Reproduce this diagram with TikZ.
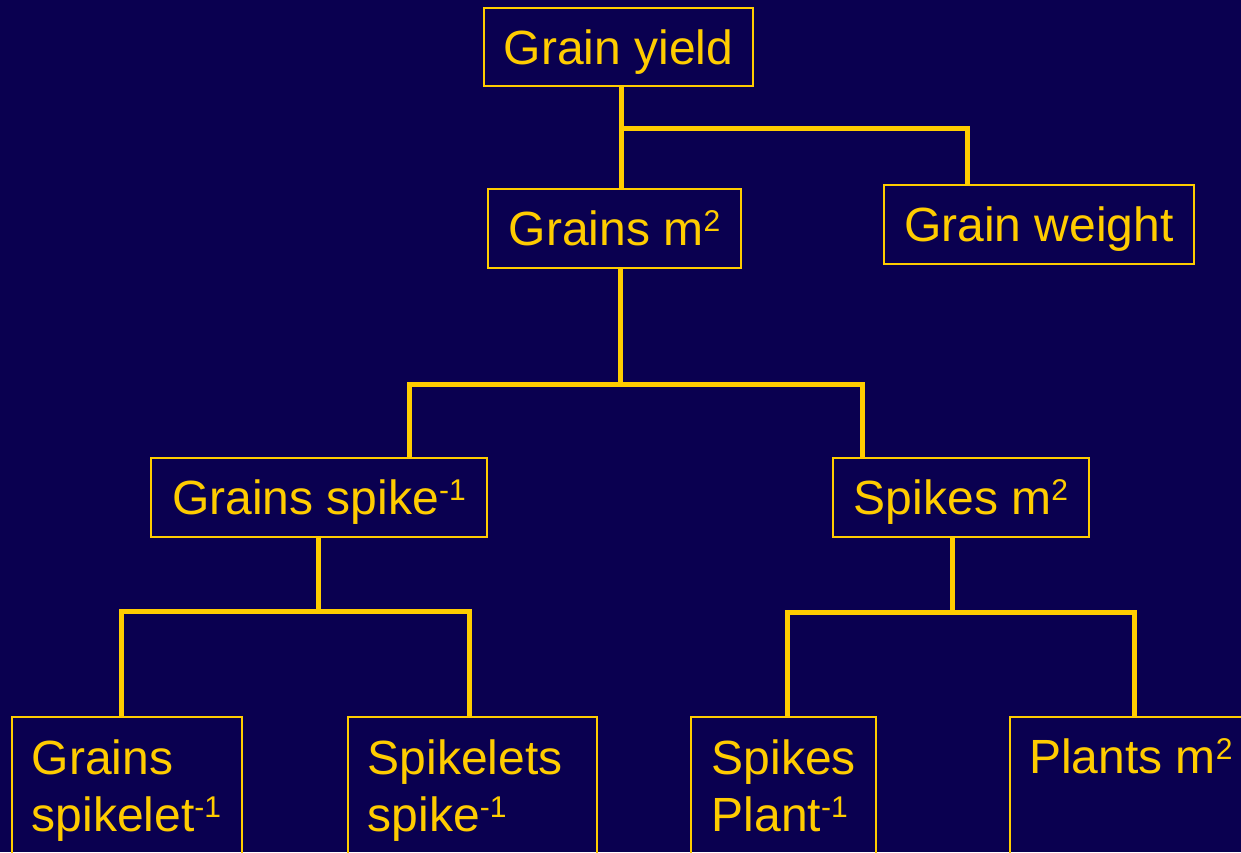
\documentclass[tikz,border=0pt]{standalone}
\usepackage{fontspec}
\setmainfont{Liberation Sans}
\definecolor{bgnavy}{HTML}{0A0050}
\definecolor{gold}{HTML}{FFCC00}
\newcommand{\supx}[1]{\raisebox{14pt}{\fontsize{30}{30}\selectfont #1}}
\begin{document}
\begin{tikzpicture}[x=1pt,y=-1pt,
  box/.style={draw=gold,line width=2pt,inner sep=0pt,text=gold,
    font=\fontsize{48}{57}\selectfont,text height=34pt,text depth=0pt},
  lbl/.style={inner sep=0pt,text=gold,anchor=base west,
    font=\fontsize{48}{57}\selectfont},
  conn/.style={draw=gold,line width=5pt,line join=miter}]
\fill[bgnavy] (0,0) rectangle (1241,852);
\useasboundingbox (0,0) rectangle (1241,852);
\clip (0,0) rectangle (1241,852);
% boxes
\node[box,minimum width=269pt,minimum height=78pt] (gy) at (618.5,47) {Grain yield};
\node[box,minimum width=253pt,minimum height=79pt] (gm) at (614.5,228.5) {Grains m\supx{2}};
\node[box,minimum width=310pt,minimum height=79pt] (gw) at (1039,224.5) {Grain weight};
\node[box,minimum width=336pt,minimum height=79pt] (gs) at (319,497.5) {Grains spike\supx{-1}};
\node[box,minimum width=256pt,minimum height=79pt] (sm) at (961,497.5) {Spikes m\supx{2}};
\node[box,minimum width=230pt,minimum height=183pt] (gsp) at (127,808.5) {};
\node[box,minimum width=249pt,minimum height=183pt] (ssp) at (472.5,808.5) {};
\node[box,minimum width=185pt,minimum height=183pt] (spp) at (783.5,808.5) {};
\node[box,minimum width=270pt,minimum height=183pt] (pm) at (1145,808.5) {};
% bottom labels
\node[lbl] (gspA) at (31.5,774) {Grains};
\node[lbl] (gspB) at (31.5,831) {spikelet\supx{-1}};
\node[lbl] (sspA) at (367.5,774) {Spikelets};
\node[lbl] (sspB) at (367.5,831) {spike\supx{-1}};
\node[lbl] (sppA) at (711.5,774) {Spikes};
\node[lbl] (sppB) at (711.5,831) {Plant\supx{-1}};
\node[lbl] (pmA) at (1029,773) {Plants m\supx{2}};
% junctions
\coordinate (j1) at (621,128);
\coordinate (d1) at (967,128);
\coordinate (j2) at (620,384);
\coordinate (d2l) at (409,384);
\coordinate (d2r) at (862,384);
\coordinate (j3) at (318,611);
\coordinate (d3l) at (121,611);
\coordinate (d3r) at (469,611);
\coordinate (j4) at (952,612);
\coordinate (d4l) at (787,612);
\coordinate (d4r) at (1134,612);
% connectors
\draw[conn] (j1 |- gy.south) -- (j1 |- gm.north);
\draw[conn] (j1) -- (d1) -- (d1 |- gw.north);
\draw[conn] (j2 |- gm.south) -- (j2);
\draw[conn] (d2l |- gs.north) -- (d2l) -- (d2r) -- (d2r |- sm.north);
\draw[conn] (j3 |- gs.south) -- (j3);
\draw[conn] (d3l |- gsp.north) -- (d3l) -- (d3r) -- (d3r |- ssp.north);
\draw[conn] (j4 |- sm.south) -- (j4);
\draw[conn] (d4l |- spp.north) -- (d4l) -- (d4r) -- (d4r |- pm.north);
\end{tikzpicture}
\end{document}
